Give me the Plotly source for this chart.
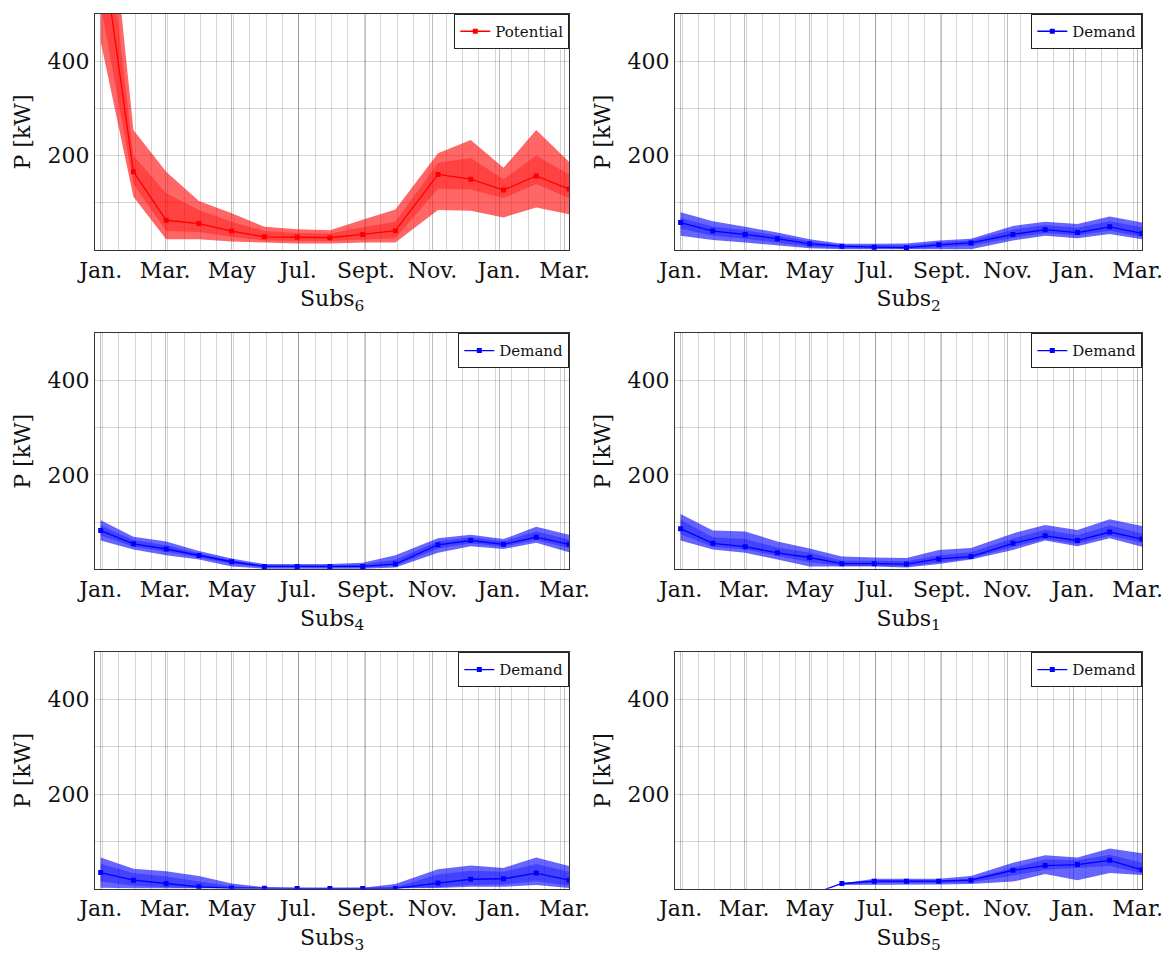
import plotly.graph_objects as go

# Sampling days (days since 1 Jan of the first year)
sample_day = [0, 30, 60, 90, 120, 150, 180, 210, 240, 270, 309, 339, 369, 399, 429]

# Month tick positions (days) and labels
tick_day = [0, 59, 120, 181, 243, 304, 365, 425]
tick_text = ["Jan.", "Mar.", "May", "Jul.", "Sept.", "Nov.", "Jan.", "Mar."]

# Subs6 - potential
subs6_med = [665, 166, 63, 56, 40, 28, 27, 26, 33, 41, 160, 150, 127, 157, 129]
subs6_hi = [930, 254, 166, 104, 78, 49, 44, 42, 64, 86, 205, 233, 174, 254, 187]
subs6_lo = [441, 113, 23, 23, 18, 16, 14, 14, 16, 16, 85, 83, 69, 90, 76]
subs6_qhi = [800, 200, 120, 85, 60, 40, 36, 35, 48, 60, 185, 195, 150, 200, 160]
subs6_qlo = [520, 140, 40, 38, 28, 20, 19, 19, 22, 25, 130, 128, 110, 140, 110]

# Subs2 - demand
subs2_med = [58, 40, 33, 24, 13, 8, 6, 5, 11, 15, 33, 43, 37, 49, 35]
subs2_hi = [80, 61, 49, 37, 23, 13, 13, 14, 20, 24, 51, 60, 55, 71, 58]
subs2_lo = [30, 21, 16, 10, 3.5, 1.4, 1.4, 0, 1.4, 1.4, 20, 30, 25, 34, 23]
subs2_qhi = [68, 50, 42, 31, 18, 10, 10, 10, 16, 20, 43, 53, 47, 61, 48]
subs2_qlo = [45, 30, 24, 16, 7, 4, 3, 2, 6, 9, 26, 36, 31, 41, 28]

# Subs4 - demand
subs4_med = [82, 54, 43, 29, 16, 6, 6, 6, 6, 11, 52, 61, 53, 68, 53]
subs4_hi = [104, 69, 59, 39, 23, 11, 11, 11, 14, 30, 66, 73, 64, 90, 73]
subs4_lo = [61, 42, 30, 21, 6, 1.4, 1.4, 1.4, 1.4, 4, 35, 49, 43, 56, 36]
subs4_qhi = [93, 62, 51, 34, 19, 8.5, 8.5, 8, 10, 20, 59, 68, 59, 80, 63]
subs4_qlo = [72, 48, 37, 25, 11, 4, 4, 3.5, 4, 7, 44, 55, 48, 62, 45]

# Subs1 - demand
subs1_med = [86, 55, 48, 35, 25, 12, 12, 11, 22, 27, 55, 71, 61, 79, 64]
subs1_hi = [117, 82, 80, 59, 44, 27, 25, 24, 41, 45, 76, 94, 83, 106, 92]
subs1_lo = [61, 42, 35, 21, 6, 6, 6, 4, 11, 21, 41, 61, 49, 66, 48]
subs1_qhi = [105, 68, 64, 46, 35, 18, 18, 17, 30, 36, 65, 84, 72, 93, 76]
subs1_qlo = [74, 48, 42, 28, 15, 7, 7, 6, 15, 23, 48, 64, 54, 71, 56]

# Subs3 - demand
subs3_med = [34, 18, 11, 4, 1.4, 0.7, 0.5, 0.5, 0.5, 0.5, 12, 20, 21, 33, 18]
subs3_hi = [66, 42, 37, 27, 11, 3, 1.4, 1.4, 2, 10, 41, 49, 44, 66, 48]
subs3_lo = [2, 0.7, 0.5, 0.3, 0.2, 0.2, 0.2, 0.2, 0.2, 0.2, 1.4, 4, 4, 8, 1.4]
subs3_qhi = [52, 33, 26, 16, 5, 1.5, 1, 1, 1, 3, 30, 38, 36, 52, 36]
subs3_qlo = [15, 6, 3, 1, 0.5, 0.3, 0.3, 0.3, 0.3, 0.3, 3, 8, 9, 16, 6]

# Subs5 - demand (no data before summer)
subs5_med = [None, None, None, None, -13, 11, 16, 16, 16, 18, 39, 49, 51, 60, 40]
subs5_hi = [None, None, None, None, None, 11, 21, 21, 21, 27, 55, 71, 66, 85, 75]
subs5_lo = [None, None, None, None, None, 8, 9, 9, 9, 10, 15, 31, 18, 33, 29]
subs5_qhi = [None, None, None, None, None, 11, 18, 18, 18, 21, 45, 62, 60, 72, 55]
subs5_qlo = [None, None, None, None, None, 9, 12, 12, 12, 13, 28, 40, 44, 48, 33]

panels = [
    ("Subs<sub>6</sub>", "Potential", "red", subs6_med, subs6_hi, subs6_lo, subs6_qhi, subs6_qlo),
    ("Subs<sub>2</sub>", "Demand", "blue", subs2_med, subs2_hi, subs2_lo, subs2_qhi, subs2_qlo),
    ("Subs<sub>4</sub>", "Demand", "blue", subs4_med, subs4_hi, subs4_lo, subs4_qhi, subs4_qlo),
    ("Subs<sub>1</sub>", "Demand", "blue", subs1_med, subs1_hi, subs1_lo, subs1_qhi, subs1_qlo),
    ("Subs<sub>3</sub>", "Demand", "blue", subs3_med, subs3_hi, subs3_lo, subs3_qhi, subs3_qlo),
    ("Subs<sub>5</sub>", "Demand", "blue", subs5_med, subs5_hi, subs5_lo, subs5_qhi, subs5_qlo),
]

W, H = 1171, 956
col_px = [(95, 569.3), (675, 1142.3)]
row_px = [(14, 250), (333.3, 569.3), (652.3, 888.7)]

rgb = {"red": (255, 0, 0), "blue": (0, 0, 255)}
FONT = "DejaVu Serif"
GRID = "rgba(0,0,0,0.16)"
MAJOR_GRID = "rgba(0,0,0,0.26)"
minor_x = [1.5 + 15 * k for k in range(29)]


def band(x, hi, lo):
    pts = [(d, h, l) for d, h, l in zip(x, hi, lo) if h is not None and l is not None]
    xs = [p[0] for p in pts]
    return xs + xs[::-1], [p[1] for p in pts] + [p[2] for p in pts][::-1]


fig = go.Figure()
layout = {}
for i, (title, name, col, med, hi, lo, qhi, qlo) in enumerate(panels):
    r, c = divmod(i, 2)
    k = "" if i == 0 else str(i + 1)
    xa, ya = "x" + k, "y" + k
    leg = "legend" + k
    cr = rgb[col]

    bx, by = band(sample_day, hi, lo)
    fig.add_trace(go.Scatter(x=bx, y=by, fill="toself", mode="lines", line=dict(width=0),
                             fillcolor=f"rgba({cr[0]},{cr[1]},{cr[2]},0.6)",
                             showlegend=False, hoverinfo="skip", xaxis=xa, yaxis=ya))
    qx, qy = band(sample_day, qhi, qlo)
    fig.add_trace(go.Scatter(x=qx, y=qy, fill="toself", mode="lines", line=dict(width=0),
                             fillcolor=f"rgba({cr[0]},{cr[1]},{cr[2]},0.35)",
                             showlegend=False, hoverinfo="skip", xaxis=xa, yaxis=ya))
    fig.add_trace(go.Scatter(x=sample_day, y=med, mode="lines+markers", name=name,
                             line=dict(color=col, width=1.3),
                             marker=dict(symbol="square", size=5, color=col),
                             connectgaps=False, xaxis=xa, yaxis=ya, legend=leg))

    x0, x1 = col_px[c]
    y0, y1 = row_px[r]
    dom_x = [x0 / W, x1 / W]
    dom_y = [1 - y1 / H, 1 - y0 / H]
    layout["xaxis" + k] = dict(
        domain=dom_x, anchor=ya, range=[-5.2, 429.3], automargin=False,
        tickmode="array", tickvals=tick_day, ticktext=tick_text,
        showgrid=True, gridcolor=MAJOR_GRID, gridwidth=1,
        minor=dict(tickmode="array", tickvals=minor_x, showgrid=True,
                   gridcolor=GRID, gridwidth=1),
        showline=True, mirror=True, linecolor="#333", linewidth=1.2,
        ticks="", zeroline=False,
        tickfont=dict(family=FONT, size=22, color="#111"),
        title=dict(text=title, font=dict(family=FONT, size=22, color="#111"), standoff=9),
    )
    layout["yaxis" + k] = dict(
        domain=dom_y, anchor=xa, range=[0, 500], automargin=False,
        tickmode="array", tickvals=[200, 400],
        showgrid=True, gridcolor=GRID, gridwidth=1,
        minor=dict(tickmode="array", tickvals=[100, 300], showgrid=True,
                   gridcolor=GRID, gridwidth=1),
        showline=True, mirror=True, linecolor="#333", linewidth=1.2,
        ticks="", zeroline=False,
        tickfont=dict(family=FONT, size=22, color="#111"),
        title=dict(text="P [kW]", font=dict(family=FONT, size=22, color="#111"), standoff=10),
    )
    layout[leg] = dict(
        x=x1 / W, y=1 - y0 / H, xanchor="right", yanchor="top",
        bgcolor="white", bordercolor="#222", borderwidth=1,
        font=dict(family=FONT, size=15, color="#111"),
        itemwidth=30, tracegroupgap=0,
    )

fig.update_layout(
    width=W, height=H, margin=dict(l=0, r=0, t=0, b=0),
    paper_bgcolor="white", plot_bgcolor="white",
    **layout,
)

fig.write_html("out.html")
